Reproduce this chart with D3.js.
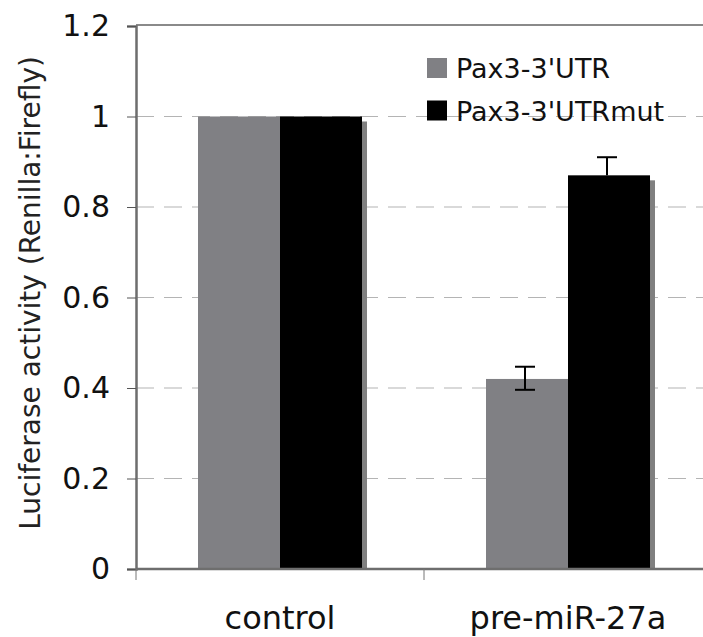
<!DOCTYPE html>
<html>
<head>
<meta charset="utf-8">
<script src="https://cdn.jsdelivr.net/npm/d3@7"></script>
<style>
html,body{margin:0;padding:0;background:#fff;}
svg{display:block;font-family:"DejaVu Sans",Verdana,sans-serif;}
</style>
</head>
<body>
<svg id="chart" width="703" height="637"></svg>
<script>
const categories = ["control", "pre-miR-27a"];
const seriesNames = ["Pax3-3'UTR", "Pax3-3'UTRmut"];
const utrValues = [1.0, 0.42];
const utrMutValues = [1.0, 0.87];
const utrErrUp = [0, 0.027];
const utrErrDown = [0, 0.024];
const utrMutErrUp = [0, 0.04];
const utrMutErrDown = [0, 0];
const yTicks = [0, 0.2, 0.4, 0.6, 0.8, 1.0, 1.2];
const yTickLabels = ["0", "0.2", "0.4", "0.6", "0.8", "1", "1.2"];
const seriesColors = ["#808084", "#000000"];

(function () {
const data = [];
categories.forEach((c, i) => {
  data.push({cat: c, s: seriesNames[0], v: utrValues[i], up: utrErrUp[i], dn: utrErrDown[i], color: seriesColors[0]});
  data.push({cat: c, s: seriesNames[1], v: utrMutValues[i], up: utrMutErrUp[i], dn: utrMutErrDown[i], color: seriesColors[1]});
});

const svg = d3.select("#chart");
const mLeft = 136, mRight = 712, mTop = 26, mBottom = 569;

const x0 = d3.scaleBand().domain(categories).range([mLeft, mRight]).paddingInner(0).paddingOuter(0);
const x1 = d3.scaleBand().domain(seriesNames).range([0, x0.bandwidth()]).paddingInner(0).paddingOuter(0.756);
const y = d3.scaleLinear().domain([0, 1.2]).range([mBottom, mTop]);

// gridlines
svg.append("g").selectAll("line").data(yTicks.filter(t => t > 0 && t < 1.2)).join("line")
  .attr("x1", mLeft).attr("x2", 703)
  .attr("y1", d => y(d)).attr("y2", d => y(d))
  .attr("stroke", "#b4b4b4").attr("stroke-width", 1.2)
  .attr("stroke-dasharray", "18,10");

// top border
svg.append("line").attr("x1", mLeft).attr("x2", 703).attr("y1", y(1.2) - 1).attr("y2", y(1.2) - 1)
  .attr("stroke", "#8a8a8a").attr("stroke-width", 2);

// clip for shadows
svg.append("defs").append("clipPath").attr("id", "plotclip")
  .append("rect").attr("x", mLeft).attr("y", 0).attr("width", 703 - mLeft).attr("height", mBottom);

const sh = 5;
svg.append("g").attr("clip-path", "url(#plotclip)").selectAll("rect").data(data).join("rect")
  .attr("x", d => x0(d.cat) + x1(d.s) + sh)
  .attr("y", d => y(d.v) + sh)
  .attr("width", x1.bandwidth())
  .attr("height", d => mBottom - y(d.v))
  .attr("fill", "#808080");

svg.append("g").selectAll("rect").data(data).join("rect")
  .attr("x", d => x0(d.cat) + x1(d.s))
  .attr("y", d => y(d.v))
  .attr("width", x1.bandwidth())
  .attr("height", d => mBottom - y(d.v))
  .attr("fill", d => d.color);

// error bars
const eb = svg.append("g").attr("stroke", "#000").attr("stroke-width", 2);
data.filter(d => d.up > 0 || d.dn > 0).forEach(d => {
  const cx = x0(d.cat) + x1(d.s) + x1.bandwidth() / 2 - 2;
  const yt = y(d.v + d.up), yb = y(d.v - d.dn);
  eb.append("line").attr("x1", cx).attr("x2", cx).attr("y1", yt).attr("y2", yb);
  eb.append("line").attr("x1", cx - 10).attr("x2", cx + 10).attr("y1", yt).attr("y2", yt);
  if (d.dn > 0) eb.append("line").attr("x1", cx - 10).attr("x2", cx + 10).attr("y1", yb).attr("y2", yb);
});

// y axis
const yAxis = d3.axisLeft(y).tickValues(yTicks).tickFormat((d, i) => yTickLabels[i]).tickSize(9).tickPadding(17);
const gy = svg.append("g").attr("transform", `translate(${mLeft},0)`).call(yAxis);
gy.select(".domain").attr("stroke", "#6e6e6e").attr("stroke-width", 2.5);
gy.selectAll(".tick line").attr("stroke", "#555").attr("stroke-width", 1);
gy.selectAll(".tick text").attr("font-size", 30).attr("fill", "#111").attr("font-family", "DejaVu Sans");

// x axis
const gx = svg.append("g").attr("transform", `translate(0,${mBottom})`);
gx.append("line").attr("x1", mLeft).attr("x2", 703).attr("y1", 0).attr("y2", 0)
  .attr("stroke", "#6e6e6e").attr("stroke-width", 2.5);
gx.selectAll("line.tk").data(categories).join("line").attr("class", "tk")
  .attr("x1", d => x0(d)).attr("x2", d => x0(d)).attr("y1", 0).attr("y2", 11)
  .attr("stroke", "#777").attr("stroke-width", 1);
gx.selectAll("text").data(categories).join("text")
  .attr("x", d => x0(d) + x0.bandwidth() / 2)
  .attr("y", 60)
  .attr("text-anchor", "middle")
  .attr("font-size", 32).attr("fill", "#111")
  .text(d => d);

// y title
svg.append("text")
  .attr("transform", "translate(40,293) rotate(-90)")
  .attr("text-anchor", "middle")
  .attr("font-size", 28).attr("fill", "#222")
  .text("Luciferase activity (Renilla:Firefly)");

// legend
const lg = svg.append("g");
seriesNames.forEach((s, i) => {
  const ly = 58 + i * 42.5;
  lg.append("rect").attr("x", 427).attr("y", ly).attr("width", 20).attr("height", 20).attr("fill", seriesColors[i]);
  lg.append("text").attr("x", 456).attr("y", ly + 20).attr("font-size", 27).attr("fill", "#111").text(s);
});
})();
</script>
</body>
</html>
